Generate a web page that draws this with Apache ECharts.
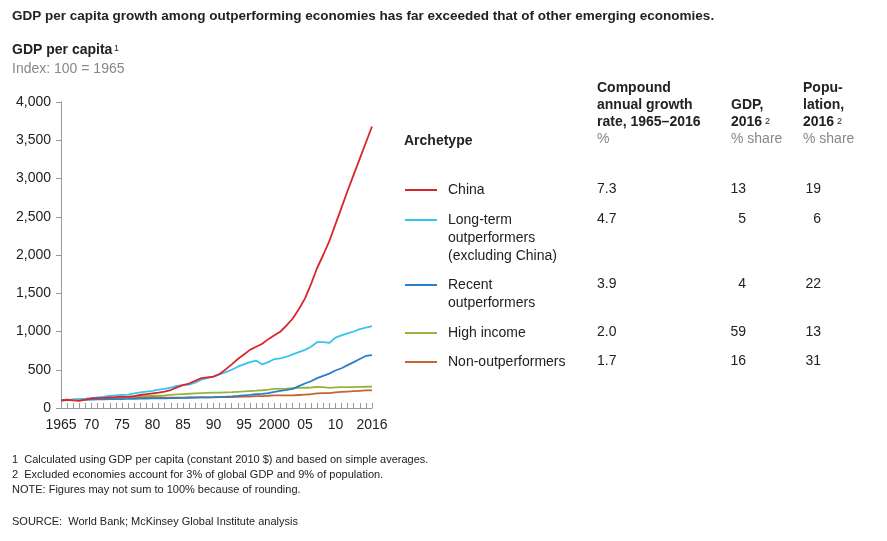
<!DOCTYPE html>
<html><head><meta charset="utf-8">
<script src="https://cdn.jsdelivr.net/npm/echarts@6/dist/echarts.min.js"></script>
<style>body{margin:0;background:#fff}#c{width:887px;height:541px}</style>
</head><body><div id="c"></div>
<script>
var years = [];
for (var y = 1965; y <= 2016; y++) years.push(String(y));
var tickLabels = {'1965':'1965','1970':'70','1975':'75','1980':'80','1985':'85','1990':'90','1995':'95','2000':'2000','2005':'05','2010':'10','2016':'2016'};

var china = [100,108,100,93,108,125,130,133,140,142,150,145,155,170,180,192,200,215,235,270,300,320,355,390,400,410,445,505,570,640,700,760,800,840,900,950,1000,1080,1170,1290,1430,1620,1830,2000,2180,2400,2620,2840,3050,3260,3470,3680];
var longTerm = [100,105,110,115,122,130,140,148,158,165,172,175,190,205,215,225,240,250,265,290,300,305,330,370,390,410,440,470,500,540,570,600,620,570,600,640,650,670,700,730,760,800,860,860,850,920,950,975,1000,1030,1050,1070];
var recent = [100,102,104,106,108,110,112,114,115,116,117,118,120,122,124,125,126,127,128,130,132,134,136,138,140,142,145,148,152,158,165,172,180,185,195,210,225,238,250,285,320,350,390,420,450,490,520,560,600,640,680,690];
var highIncome = [100,104,108,112,117,122,126,131,138,140,140,146,151,156,161,162,163,166,172,177,182,186,190,194,197,200,201,205,208,212,216,221,226,232,239,250,251,254,258,262,265,268,275,273,262,270,272,272,274,276,278,280];
var nonOut = [100,104,108,112,115,118,122,126,130,132,134,136,138,140,142,144,142,138,135,135,136,138,138,139,140,140,141,141,142,145,148,150,155,155,160,165,165,165,165,170,175,180,190,195,195,205,210,215,220,225,230,230];

var names = ['China','Long-term outperformers (excluding China)','Recent outperformers','High income','Non-outperformers'];
var colors = ['#d9262e','#38c4f0','#2a7fc9','#95b53a','#c8642e'];
var legendLabels = [['China'],['Long-term','outperformers','(excluding China)'],['Recent','outperformers'],['High income'],['Non-outperformers']];
var cagr = ['7.3','4.7','3.9','2.0','1.7'];
var gdpShare = ['13','5','4','59','16'];
var popShare = ['19','6','22','13','31'];
var rowY = [190,220,285,333,362];

var font = 'Liberation Sans, Arial, sans-serif';
var g = [];
function txt(x, y, s, o) {
  o = o || {};
  g.push({type:'text', style:{x:x, y:y, text:s, font:(o.bold?'bold ':'')+(o.size||14)+'px '+font, fill:o.color||'#222', textAlign:o.align||'left', textVerticalAlign:'top', lineHeight:o.lh||17}});
}
txt(12,8,'GDP per capita growth among outperforming economies has far exceeded that of other emerging economies.',{bold:true,size:13.5});
txt(12,42,'GDP per capita',{bold:true});
txt(114,40,'1',{size:9});
txt(12,61,'Index: 100 = 1965',{color:'#888'});
txt(597,80,'Compound\nannual growth\nrate, 1965–2016',{bold:true});
txt(597,131,'%',{color:'#888'});
txt(731,97,'GDP,\n2016',{bold:true});
txt(765,113,'2',{size:9});
txt(731,131,'% share',{color:'#888'});
txt(803,80,'Popu-\nlation,\n2016',{bold:true});
txt(837,113,'2',{size:9});
txt(803,131,'% share',{color:'#888'});
txt(404,133,'Archetype',{bold:true});
for (var i = 0; i < names.length; i++) {
  var ty = rowY[i] - 9;
  g.push({type:'line', shape:{x1:405,y1:rowY[i],x2:437,y2:rowY[i]}, style:{stroke:colors[i],lineWidth:2}});
  txt(448,ty,legendLabels[i].join('\n'),{lh:18});
  txt(597,ty,cagr[i]);
  txt(746,ty,gdpShare[i],{align:'right'});
  txt(821,ty,popShare[i],{align:'right'});
}
txt(12,452,'1  Calculated using GDP per capita (constant 2010 $) and based on simple averages.\n2  Excluded economies account for 3% of global GDP and 9% of population.\nNOTE: Figures may not sum to 100% because of rounding.',{size:11,lh:15});
txt(12,513,'SOURCE:  World Bank; McKinsey Global Institute analysis',{size:11});

var series = [china,longTerm,recent,highIncome,nonOut].map(function(d,i){
  return {name:names[i], type:'line', data:d, symbol:'none', lineStyle:{width:1.8,color:colors[i]}, itemStyle:{color:colors[i]}, z:10-i};
}).reverse();

var chart = echarts.init(document.getElementById('c'));
chart.setOption({
  animation:false,
  grid:{left:61,right:515,top:102,bottom:133},
  xAxis:{type:'category', data:years, boundaryGap:false,
    axisLine:{lineStyle:{color:'#999'}},
    axisTick:{interval:0, length:-5, lineStyle:{color:'#999'}},
    axisLabel:{interval:0, color:'#222', fontSize:14, fontFamily:font, margin:10,
      formatter:function(v){return tickLabels[v]||'';}}},
  yAxis:{type:'value', min:0, max:4000, interval:500,
    axisLine:{show:true,lineStyle:{color:'#999'}},
    axisTick:{show:true,length:5,lineStyle:{color:'#999'}},
    splitLine:{show:false},
    axisLabel:{color:'#222', fontSize:14, fontFamily:font, margin:10,
      formatter:function(v){return v.toLocaleString('en-US');}}},
  graphic:g,
  series:series
});
</script></body></html>
